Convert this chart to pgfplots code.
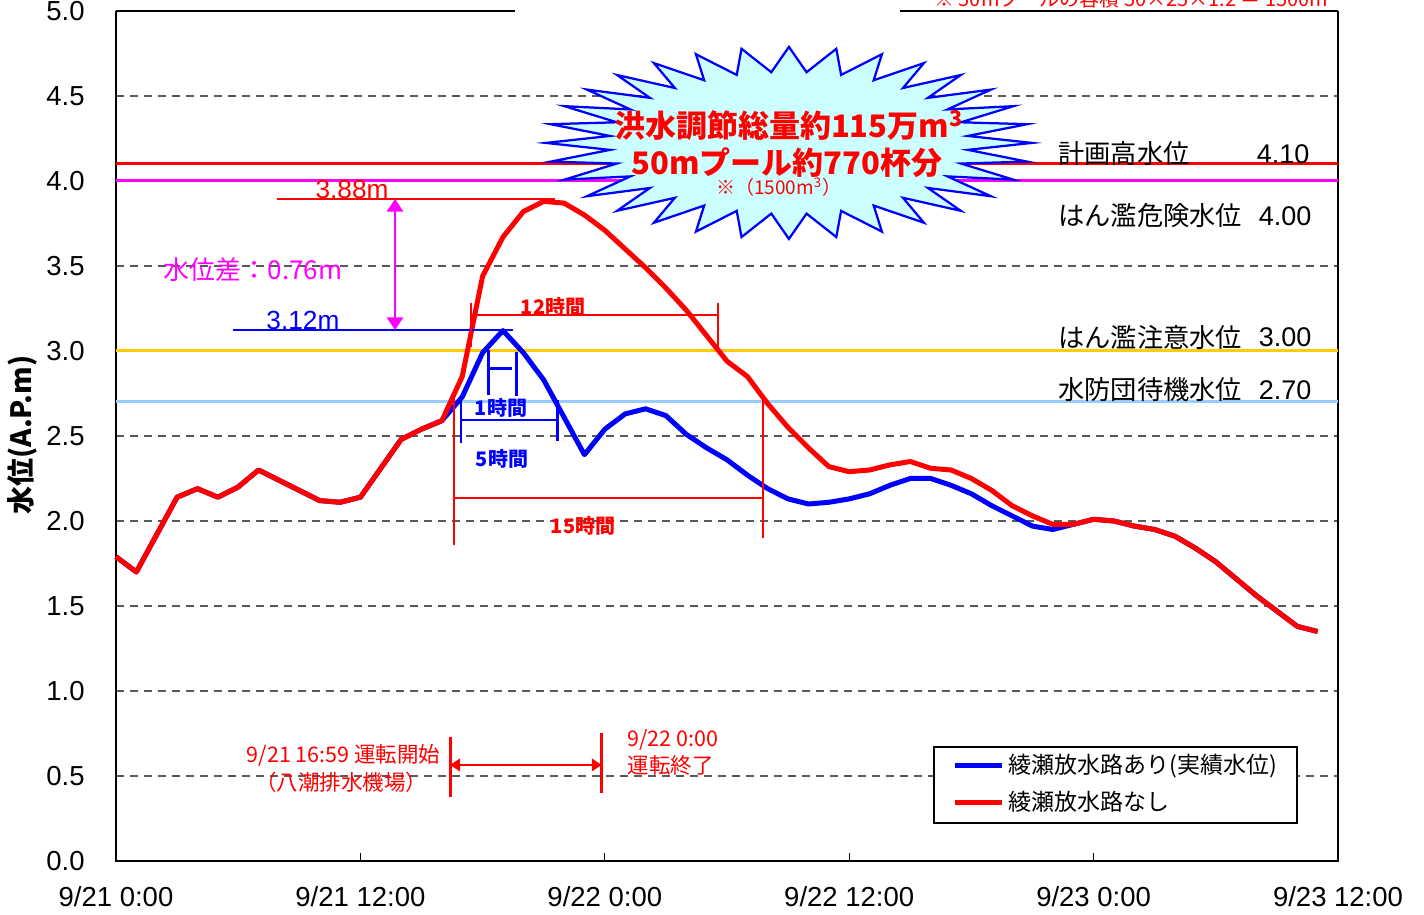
\documentclass[border=0pt]{standalone}
\usepackage{fontspec}
\setmainfont{Liberation Sans}
\newfontfamily\jp{Noto Sans CJK JP}
\usepackage{pgfplots}
\pgfplotsset{compat=1.18}
\usetikzlibrary{arrows.meta}
\definecolor{thrred}{RGB}{255,0,0}
\definecolor{thrmag}{RGB}{255,0,255}
\definecolor{thrgold}{RGB}{255,204,0}
\definecolor{thrblue}{RGB}{153,204,255}
\definecolor{burstfill}{RGB}{204,255,255}
\definecolor{cblue}{RGB}{0,0,255}
\definecolor{gridgray}{RGB}{90,90,90}

\pgfplotstableread{
h v
0 1.79
1 1.70
2 1.92
3 2.14
4 2.19
5 2.14
6 2.20
7 2.30
8 2.24
9 2.18
10 2.12
11 2.11
12 2.14
13 2.31
14 2.48
15 2.54
16 2.59
17 2.73
18 2.99
19 3.12
20 2.99
21 2.83
22 2.61
23 2.39
24 2.54
25 2.63
26 2.66
27 2.62
28 2.51
29 2.43
30 2.36
31 2.27
32 2.19
33 2.13
34 2.10
35 2.11
36 2.13
37 2.16
38 2.21
39 2.25
40 2.25
41 2.21
42 2.16
43 2.09
44 2.03
45 1.97
46 1.95
47 1.98
48 2.01
49 2.00
50 1.97
51 1.95
52 1.91
53 1.84
54 1.76
55 1.66
56 1.56
57 1.47
58 1.38
59 1.35
}\withdata

\pgfplotstableread{
h v
0 1.79
1 1.70
2 1.92
3 2.14
4 2.19
5 2.14
6 2.20
7 2.30
8 2.24
9 2.18
10 2.12
11 2.11
12 2.14
13 2.31
14 2.48
15 2.54
16 2.59
17 2.85
18 3.44
19 3.67
20 3.82
21 3.88
22 3.87
23 3.80
24 3.71
25 3.60
26 3.49
27 3.37
28 3.24
29 3.09
30 2.94
31 2.85
32 2.69
33 2.55
34 2.43
35 2.32
36 2.29
37 2.30
38 2.33
39 2.35
40 2.31
41 2.30
42 2.25
43 2.18
44 2.09
45 2.03
46 1.98
47 1.98
48 2.01
49 2.00
50 1.97
51 1.95
52 1.91
53 1.84
54 1.76
55 1.66
56 1.56
57 1.47
58 1.38
59 1.35
}\withoutdata

\begin{document}
\begin{tikzpicture}
\path[use as bounding box] (0,0) rectangle (569.6pt,366pt);
\begin{axis}[
  at={(46.4pt,21.6pt)}, anchor=south west,
  scale only axis, width=488.8pt, height=340pt,
  xmin=0, xmax=60, ymin=0, ymax=5,
  clip=false,
  axis line style={draw=none},
  xtick={0,12,24,36,48,60},
  xticklabels={9/21 0:00, 9/21 12:00, 9/22 0:00, 9/22 12:00, 9/23 0:00, 9/23 12:00},
  ytick={0,0.5,1,1.5,2,2.5,3,3.5,4,4.5,5},
  xtick pos=left, ytick pos=left,
  tick align=inside, major tick length=3pt,
  tick style={black, line width=0.5pt},
  ticklabel style={font=\fontsize{11}{13}\selectfont},
  xticklabel style={yshift=-6.8pt},
  yticklabel style={xshift=-9pt, /pgf/number format/.cd, fixed, fixed zerofill, precision=1, assume math mode=true},
]
% grid
\pgfplotsinvokeforeach{0.5,1,1.5,2,2.5,3.5,4.5}{
  \draw[gridgray, line width=0.5pt, dash pattern=on 3.2pt off 2.4pt] (axis cs:0,#1) -- (axis cs:60,#1);
}
% frame
\draw[black, line width=0.8pt] (axis cs:0,5) -- (axis cs:0,0) -- (axis cs:60,0) -- (axis cs:60,5);
\draw[black, line width=0.8pt] (axis cs:0,5) -- (axis cs:19.59,5);
\draw[black, line width=0.8pt] (axis cs:38.49,5) -- (axis cs:60,5);
% threshold lines
\addplot[thrblue, line width=1.2pt, forget plot] coordinates {(0,2.70) (60,2.70)};
\addplot[thrgold, line width=1.2pt, forget plot] coordinates {(0,3.00) (60,3.00)};
\addplot[thrmag, line width=1.2pt, forget plot] coordinates {(0,4.00) (60,4.00)};
\addplot[thrred, line width=1.2pt, forget plot] coordinates {(0,4.10) (60,4.10)};
% curves
\addplot[cblue, line width=2pt, line join=round] table[x=h, y=v] {\withdata};
\addplot[red, line width=2pt, line join=round] table[x=h, y=v] {\withoutdata};

\coordinate (bc) at (axis cs:33.04,4.224);

% threshold labels
\node[anchor=west, inner sep=0pt, font=\jp\fontsize{10.5}{12}\selectfont] at (axis cs:46.25,4.159) {計画高水位};
\node[anchor=east, inner sep=0pt, font=\fontsize{10.8}{12}\selectfont] at (axis cs:58.62,4.159) {4.10};
\node[anchor=west, inner sep=0pt, font=\jp\fontsize{10.5}{12}\selectfont] at (axis cs:46.25,3.794) {はん濫危険水位};
\node[anchor=east, inner sep=0pt, font=\fontsize{10.8}{12}\selectfont] at (axis cs:58.72,3.794) {4.00};
\node[anchor=west, inner sep=0pt, font=\jp\fontsize{10.5}{12}\selectfont] at (axis cs:46.25,3.082) {はん濫注意水位};
\node[anchor=east, inner sep=0pt, font=\fontsize{10.8}{12}\selectfont] at (axis cs:58.72,3.082) {3.00};
\node[anchor=west, inner sep=0pt, font=\jp\fontsize{10.5}{12}\selectfont] at (axis cs:46.25,2.771) {水防団待機水位};
\node[anchor=east, inner sep=0pt, font=\fontsize{10.8}{12}\selectfont] at (axis cs:58.72,2.771) {2.70};

% peak annotations
\draw[red, line width=0.6pt] (axis cs:7.89,3.894) -- (axis cs:21.55,3.894);
\node[red, inner sep=0pt, font=\fontsize{10.5}{12}\selectfont] at (axis cs:11.59,3.953) {3.88m};
\draw[cblue, line width=0.6pt] (axis cs:5.74,3.124) -- (axis cs:19.49,3.124);
\node[cblue, inner sep=0pt, font=\fontsize{10.5}{12}\selectfont] at (axis cs:9.18,3.18) {3.12m};
\draw[thrmag, line width=0.8pt, {Triangle[width=6.5pt,length=5pt]}-{Triangle[width=6.5pt,length=5pt]}] (axis cs:13.70,3.894) -- (axis cs:13.70,3.124);
\node[thrmag, inner sep=0pt, font=\jp\fontsize{10.4}{12}\selectfont] at (axis cs:6.73,3.476) {水位差：0.76m};

% 12 hours
\draw[red, line width=0.8pt] (axis cs:17.41,3.282) -- (axis cs:17.41,3.024);
\draw[red, line width=0.8pt] (axis cs:29.54,3.282) -- (axis cs:29.54,3.024);
\draw[red, line width=0.8pt] (axis cs:17.41,3.212) -- (axis cs:29.54,3.212);
\node[red, inner sep=0pt, font=\jp\bfseries\fontsize{8}{10}\selectfont] at (axis cs:21.46,3.262) {12時間};
% 1 hour
\draw[cblue, line width=1.1pt] (axis cs:18.28,3.006) -- (axis cs:18.28,2.741);
\draw[cblue, line width=1.1pt] (axis cs:19.67,2.996) -- (axis cs:19.67,2.738);
\draw[cblue, line width=1.1pt] (axis cs:18.28,2.898) -- (axis cs:19.44,2.898);
\node[cblue, inner sep=0pt, font=\jp\bfseries\fontsize{8}{10}\selectfont] at (axis cs:18.90,2.665) {1時間};
% 5 hours
\draw[cblue, line width=1.1pt] (axis cs:16.94,2.72) -- (axis cs:16.94,2.46);
\draw[cblue, line width=1.1pt] (axis cs:21.69,2.71) -- (axis cs:21.69,2.47);
\draw[cblue, line width=1.1pt] (axis cs:16.94,2.594) -- (axis cs:21.69,2.594);
\node[cblue, inner sep=0pt, font=\jp\bfseries\fontsize{8}{10}\selectfont] at (axis cs:18.95,2.365) {5時間};
% 15 hours
\draw[red, line width=0.8pt] (axis cs:16.61,2.72) -- (axis cs:16.61,1.859);
\draw[red, line width=0.8pt] (axis cs:31.78,2.72) -- (axis cs:31.78,1.90);
\draw[red, line width=0.8pt] (axis cs:16.61,2.134) -- (axis cs:31.78,2.134);
\node[red, inner sep=0pt, font=\jp\bfseries\fontsize{8}{10}\selectfont] at (axis cs:22.93,1.97) {15時間};

% pump operation
\draw[red, line width=1.2pt] (axis cs:16.40,0.731) -- (axis cs:16.40,0.378);
\draw[red, line width=1.2pt] (axis cs:23.85,0.753) -- (axis cs:23.85,0.40);
\draw[red, line width=1pt, {Triangle[width=5pt,length=4pt]}-{Triangle[width=5pt,length=4pt]}] (axis cs:16.40,0.565) -- (axis cs:23.85,0.565);
\node[red, inner sep=0pt, font=\jp\fontsize{8.6}{10}\selectfont] at (axis cs:11.17,0.624) {9/21\ 16:59 運転開始};
\node[red, inner sep=0pt, font=\jp\fontsize{8.6}{10}\selectfont] at (axis cs:11.05,0.465) {（八潮排水機場）};
\node[red, anchor=west, inner sep=0pt, font=\jp\fontsize{8.6}{10}\selectfont] at (axis cs:25.09,0.712) {9/22 0:00};
\node[red, anchor=west, inner sep=0pt, font=\jp\fontsize{8.6}{10}\selectfont] at (axis cs:25.09,0.565) {運転終了};

% legend
\draw[black, line width=0.5pt, fill=white] (axis cs:40.16,0.671) rectangle (axis cs:57.99,0.224);
\draw[cblue, line width=2pt] (axis cs:41.19,0.559) -- (axis cs:43.50,0.559);
\draw[red, line width=2pt] (axis cs:41.19,0.347) -- (axis cs:43.50,0.347);
\node[anchor=west, inner sep=0pt, font=\jp\fontsize{9.2}{11}\selectfont] at (axis cs:43.80,0.559) {綾瀬放水路あり(実績水位)};
\node[anchor=west, inner sep=0pt, font=\jp\fontsize{9.2}{11}\selectfont] at (axis cs:43.80,0.347) {綾瀬放水路なし};
\end{axis}

% burst
\begin{scope}[shift={(bc)}, x=1pt, y=1pt]
\draw[cblue, line width=0.9pt, fill=burstfill, line join=miter, miter limit=20]
  plot[variable=\k, samples at={0,...,63}] ({ifthenelse(isodd(\k),0.74,1)*97.2*cos(\k*5.625)}, {ifthenelse(isodd(\k),0.74,1)*38.4*sin(\k*5.625)}) -- cycle;
\node[red, inner sep=0pt, font=\jp\bfseries\fontsize{12.4}{14}\selectfont] at (0,6.8) {洪水調節総量約115万m\textsuperscript{3}};
\node[red, inner sep=0pt, font=\jp\bfseries\fontsize{12.4}{14}\selectfont] at (-0.8,-8) {50mプール約770杯分};
\node[red, inner sep=0pt, font=\jp\fontsize{7.6}{9}\selectfont] at (-4,-17.6) {※（1500m\textsuperscript{3}）};
\end{scope}

% cut-off note at top (partly outside the page, as in the original)
\node[red, inner sep=0pt, font=\jp\fontsize{8}{10}\selectfont] at (454.4pt,366.6pt) {※ 50mプールの容積 50×25×1.2 ＝ 1500m\textsuperscript{3}};

% y label
\node[rotate=90, inner sep=0pt, font=\jp\bfseries\fontsize{11.2}{13}\selectfont] at (8.8pt,192pt) {水位(A.P.m)};
\end{tikzpicture}
\end{document}
